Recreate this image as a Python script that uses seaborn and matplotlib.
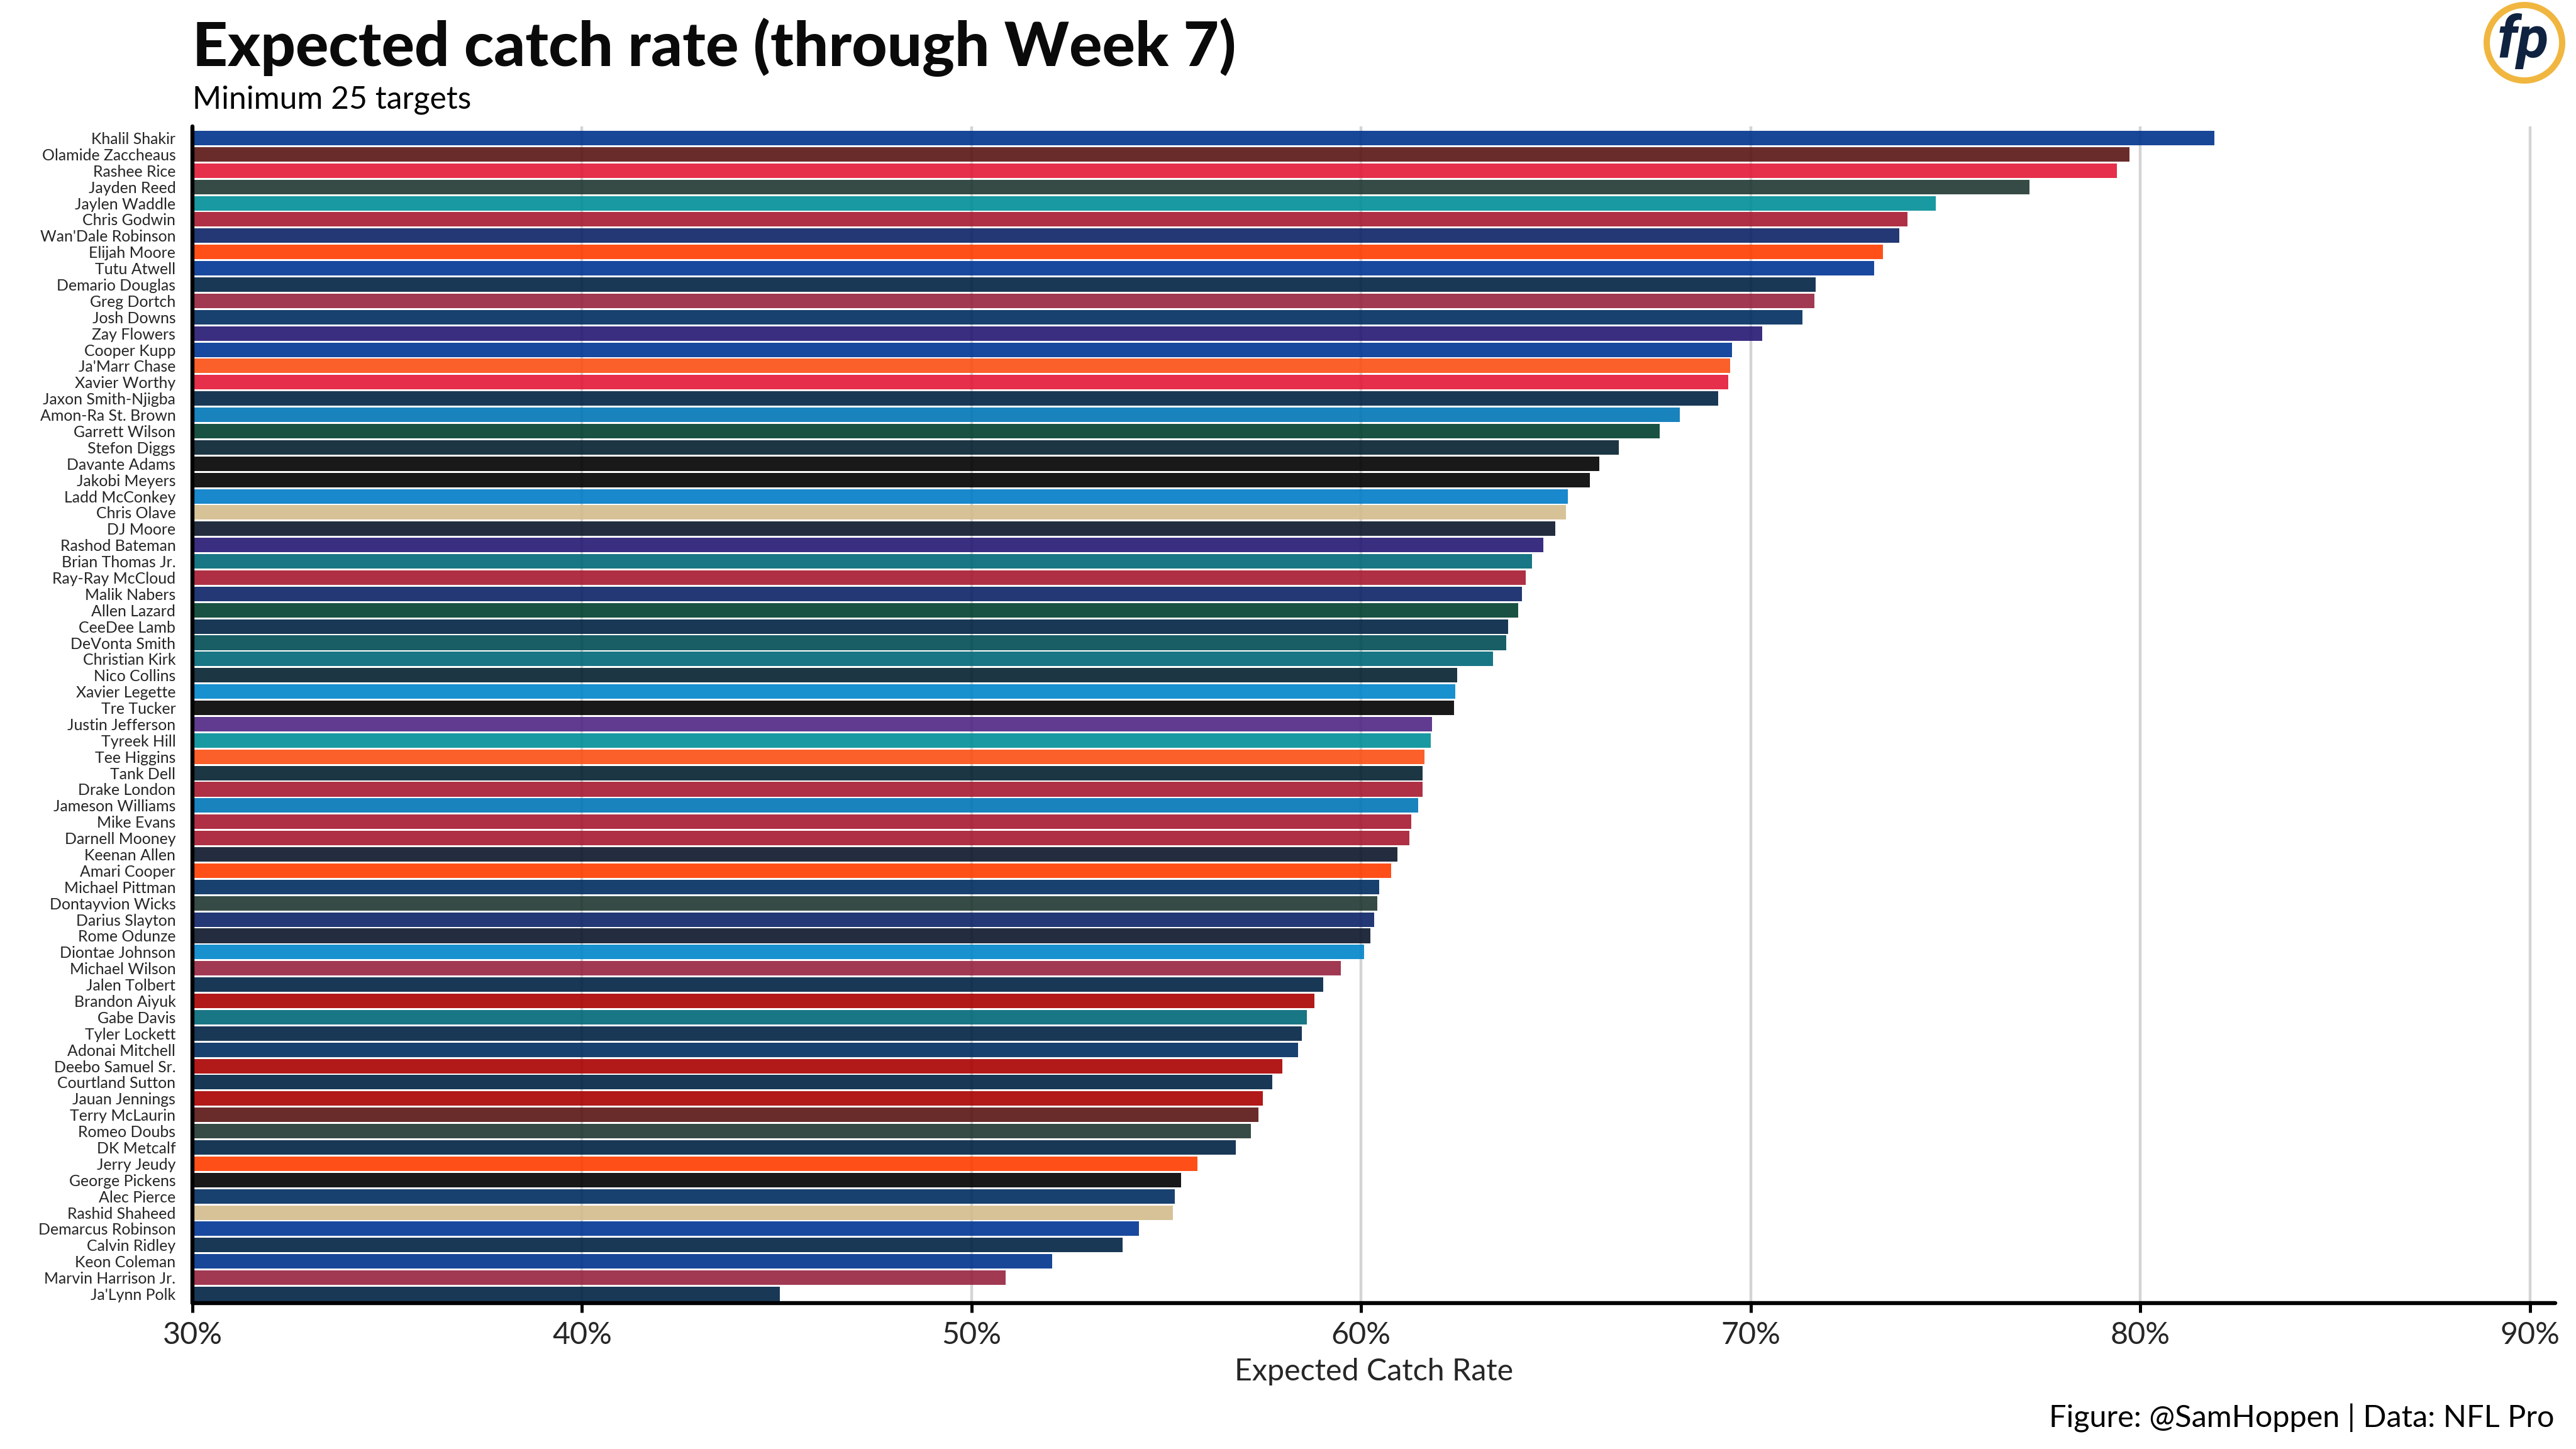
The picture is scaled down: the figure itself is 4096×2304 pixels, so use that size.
import matplotlib
matplotlib.use("Agg")
import matplotlib.pyplot as plt
from matplotlib.patches import Circle
import pandas as pd
import seaborn as sns

players = ["Khalil Shakir", "Olamide Zaccheaus", "Rashee Rice", "Jayden Reed", "Jaylen Waddle",
           "Chris Godwin", "Wan'Dale Robinson", "Elijah Moore", "Tutu Atwell", "Demario Douglas",
           "Greg Dortch", "Josh Downs", "Zay Flowers", "Cooper Kupp", "Ja'Marr Chase",
           "Xavier Worthy", "Jaxon Smith-Njigba", "Amon-Ra St. Brown", "Garrett Wilson", "Stefon Diggs",
           "Davante Adams", "Jakobi Meyers", "Ladd McConkey", "Chris Olave", "DJ Moore",
           "Rashod Bateman", "Brian Thomas Jr.", "Ray-Ray McCloud", "Malik Nabers", "Allen Lazard",
           "CeeDee Lamb", "DeVonta Smith", "Christian Kirk", "Nico Collins", "Xavier Legette",
           "Tre Tucker", "Justin Jefferson", "Tyreek Hill", "Tee Higgins", "Tank Dell",
           "Drake London", "Jameson Williams", "Mike Evans", "Darnell Mooney", "Keenan Allen",
           "Amari Cooper", "Michael Pittman", "Dontayvion Wicks", "Darius Slayton", "Rome Odunze",
           "Diontae Johnson", "Michael Wilson", "Jalen Tolbert", "Brandon Aiyuk", "Gabe Davis",
           "Tyler Lockett", "Adonai Mitchell", "Deebo Samuel Sr.", "Courtland Sutton", "Jauan Jennings",
           "Terry McLaurin", "Romeo Doubs", "DK Metcalf", "Jerry Jeudy", "George Pickens",
           "Alec Pierce", "Rashid Shaheed", "Demarcus Robinson", "Calvin Ridley", "Keon Coleman",
           "Marvin Harrison Jr.", "Ja'Lynn Polk"]

exp_catch = [81.9, 79.72, 79.4, 77.15, 74.75, 74.03, 73.82, 73.4, 73.17, 71.67,
             71.63, 71.33, 70.3, 69.52, 69.47, 69.42, 69.17, 68.18, 67.67, 66.62,
             66.12, 65.87, 65.3, 65.25, 64.98, 64.67, 64.38, 64.22, 64.13, 64.03,
             63.77, 63.73, 63.38, 62.47, 62.42, 62.38, 61.82, 61.78, 61.62, 61.58,
             61.58, 61.47, 61.28, 61.23, 60.93, 60.77, 60.47, 60.42, 60.33, 60.23,
             60.07, 59.47, 59.02, 58.8, 58.6, 58.48, 58.38, 57.98, 57.72, 57.47,
             57.37, 57.17, 56.78, 55.8, 55.38, 55.22, 55.17, 54.3, 53.88, 52.07,
             50.87, 45.08]

teams = ["BUF", "WAS", "KC", "GB", "MIA", "TB", "NYG", "CLE", "LA", "NE",
         "ARI", "IND", "BAL", "LA", "CIN", "KC", "SEA", "DET", "NYJ", "HOU",
         "LV", "LV", "LAC", "NO", "CHI", "BAL", "JAX", "ATL", "NYG", "NYJ",
         "DAL", "PHI", "JAX", "HOU", "CAR", "LV", "MIN", "MIA", "CIN", "HOU",
         "ATL", "DET", "TB", "ATL", "CHI", "CLE", "IND", "GB", "NYG", "CHI",
         "CAR", "ARI", "DAL", "SF", "JAX", "SEA", "IND", "SF", "DEN", "SF",
         "WAS", "GB", "SEA", "CLE", "PIT", "IND", "NO", "LA", "TEN", "BUF",
         "ARI", "NE"]

team_colors = {"ARI": "#97233F", "ATL": "#A71930", "BAL": "#241773", "BUF": "#00338D", "CAR": "#0085CA",
               "CHI": "#0B162A", "CIN": "#FB4F14", "CLE": "#FF3C00", "DAL": "#002244", "DEN": "#002244",
               "DET": "#0076B6", "GB": "#203731", "HOU": "#03202F", "IND": "#002C5F", "JAX": "#006778",
               "KC": "#E31837", "LA": "#003594", "LAC": "#007BC7", "LV": "#000000", "MIA": "#008E97",
               "MIN": "#4F2683", "NE": "#002244", "NO": "#D3BC8D", "NYG": "#0B2265", "NYJ": "#003F2D",
               "PHI": "#004C54", "PIT": "#000000", "SEA": "#002244", "SF": "#AA0000", "TB": "#A71930",
               "TEN": "#002244", "WAS": "#5A1414"}

x_ticks = [30, 40, 50, 60, 70, 80, 90]
x_tick_labels = ["30%", "40%", "50%", "60%", "70%", "80%", "90%"]

df = pd.DataFrame({"player": players, "exp_catch": exp_catch, "team": teams})

sns.set_theme(style="white")
plt.rcParams['font.family'] = ['Lato', 'DejaVu Sans']

W, H = 4096, 2304
DPI = 256
fig = plt.figure(figsize=(W / DPI, H / DPI), dpi=DPI, facecolor="white")
# axes box measured in pixels from the reference
left, right, top, bottom = 306, 4063, 201, 2072
ax = fig.add_axes([left / W, 1 - bottom / H, (right - left) / W, (bottom - top) / H])

sns.barplot(data=df, y="player", x="exp_catch", hue="team", palette=team_colors,
            dodge=False, width=0.89, legend=False, saturation=1, alpha=0.9,
            linewidth=0, ax=ax)

ax.set_xlim(30, 90.65)
ax.set_ylim(71.56, -0.715)

# grid sits under the see-through bars
ax.xaxis.grid(True, color="#d4d4d4", linewidth=1.25)
ax.yaxis.grid(False)
ax.set_axisbelow(True)

ax.set_xticks(x_ticks)
ax.set_xticklabels(x_tick_labels, fontsize=13.6)
ax.tick_params(axis="x", length=4.2, width=1.4, color="black", pad=4, bottom=True)
ax.tick_params(axis="y", length=0, labelsize=7.0, pad=7.5, left=False)

ax.set_xlabel("Expected Catch Rate", fontsize=13.6, labelpad=4)
ax.set_ylabel("")

sns.despine(ax=ax, top=True, right=True)
for side in ["left", "bottom"]:
    ax.spines[side].set_linewidth(1.8)
    ax.spines[side].set_color("black")
    ax.spines[side].set_capstyle("round")

fig.text(306 / W, 1 - 105 / H, "Expected catch rate (through Week 7)", fontsize=27.5,
         fontweight="black", color="#0a0a0a", ha="left", va="baseline")
fig.text(306 / W, 1 - 172 / H, "Minimum 25 targets", fontsize=14, color="black",
         ha="left", va="baseline")
fig.text(4062 / W, 1 - 2255 / H, "Figure: @SamHoppen | Data: NFL Pro", fontsize=13.7,
         color="black", ha="right", va="center")

# logo badge top right
logo = Circle((4014 / DPI, (H - 68) / DPI), 60 / DPI, transform=fig.dpi_scale_trans,
              facecolor="white", edgecolor="#f0b63f", linewidth=2.8)
fig.add_artist(logo)
fig.text(4012 / W, 1 - 66 / H, "fp", fontsize=26, fontweight="bold", style="italic",
         family="Roboto", color="#0f2240", ha="center", va="center")

plt.savefig("out.png", dpi=DPI, facecolor="white")
plt.close()
